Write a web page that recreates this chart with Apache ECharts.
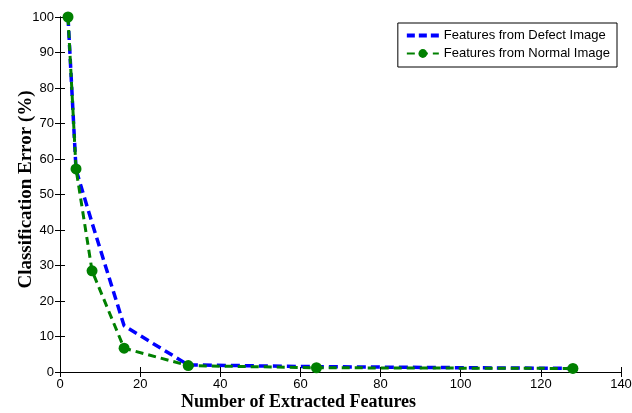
<!DOCTYPE html>
<html style="height: 100%">
<head>
	<meta charset="utf-8">
</head>
<body style="height: 100%; margin: 0">
<div id="container" style="width: 632px; height: 413px"></div>
<script type="text/javascript" src="https://cdn.jsdelivr.net/npm/echarts@6/dist/echarts.min.js"></script>
<script type="text/javascript">
    // number of extracted features
    var featureCounts = [2, 4, 8, 16, 32, 64, 128];
    // classification error (%)
    var defectError = [100, 57, 42, 13, 2, 1.5, 1];
    var normalError = [100, 57.2, 28.5, 6.7, 1.8, 1.2, 1];

    function pairs(xs, ys) {
        var out = [];
        for (var i = 0; i < xs.length; i++) {
            out.push([xs[i], ys[i]]);
        }
        return out;
    }

    var dom = document.getElementById("container");
    var myChart = echarts.init(dom);
    var tickFont = {color: '#000', fontFamily: 'Liberation Sans', fontSize: 13};
    var frameLine = {show: true, lineStyle: {color: '#000', width: 1}};
    var innerTick = {inside: true, length: 5, lineStyle: {color: '#000'}};
    var option = {
        backgroundColor: '#fff',
        animation: false,
        grid: {left: 60, right: 11, top: 17, bottom: 41, outerBoundsMode: 'none', containLabel: false},
        legend: {
            orient: 'vertical',
            right: 15,
            top: 23,
            align: 'left',
            backgroundColor: '#fff',
            borderColor: '#000',
            borderWidth: 1,
            padding: [6, 7, 7, 8],
            itemGap: 5,
            itemWidth: 32,
            itemHeight: 11,
            textStyle: {color: '#000', fontFamily: 'Liberation Sans', fontSize: 13},
            data: [
                {
                    name: 'Features from Defect Image',
                    icon: 'path://M0,0h8v4h-8z M12,0h8v4h-8z M24,0h8v4h-8z'
                },
                'Features from Normal Image'
            ]
        },
        xAxis: [{
            type: 'value',
            min: 0,
            max: 140,
            interval: 20,
            name: 'Number of Extracted Features',
            nameLocation: 'middle',
            nameGap: 21,
            nameMoveOverlap: false,
            nameTextStyle: {
                color: '#000', fontFamily: 'Liberation Serif', fontWeight: 'bold', fontSize: 18,
                padding: [0, 84, 0, 0]
            },
            axisLine: frameLine,
            axisTick: innerTick,
            axisLabel: Object.assign({margin: 6}, tickFont),
            splitLine: {show: false}
        }, {
            type: 'value',
            position: 'top',
            min: 0,
            max: 140,
            interval: 20,
            axisLine: frameLine,
            axisTick: innerTick,
            axisLabel: {show: false},
            splitLine: {show: false}
        }],
        yAxis: [{
            type: 'value',
            min: 0,
            max: 100,
            interval: 10,
            name: 'Classification Error (%)',
            nameLocation: 'middle',
            nameGap: 24,
            nameMoveOverlap: false,
            nameTextStyle: {
                color: '#000', fontFamily: 'Liberation Serif', fontWeight: 'bold', fontSize: 19,
                padding: [0, 0, 0, 10]
            },
            axisLine: frameLine,
            axisTick: innerTick,
            axisLabel: Object.assign({margin: 6}, tickFont),
            splitLine: {show: false}
        }, {
            type: 'value',
            position: 'right',
            min: 0,
            max: 100,
            interval: 10,
            axisLine: frameLine,
            axisTick: innerTick,
            axisLabel: {show: false},
            splitLine: {show: false}
        }],
        series: [{
            name: 'Features from Defect Image',
            type: 'line',
            symbol: 'none',
            color: '#0000ff',
            lineStyle: {color: '#0000ff', width: 3.5, type: [9, 5]},
            data: pairs(featureCounts, defectError)
        }, {
            name: 'Features from Normal Image',
            type: 'line',
            symbol: 'circle',
            symbolSize: 11,
            color: '#008000',
            itemStyle: {color: '#008000'},
            lineStyle: {color: '#008000', width: 3, type: [8, 5]},
            data: pairs(featureCounts, normalError)
        }]
    };

    myChart.setOption(option, true);
</script>
</body>
</html>
